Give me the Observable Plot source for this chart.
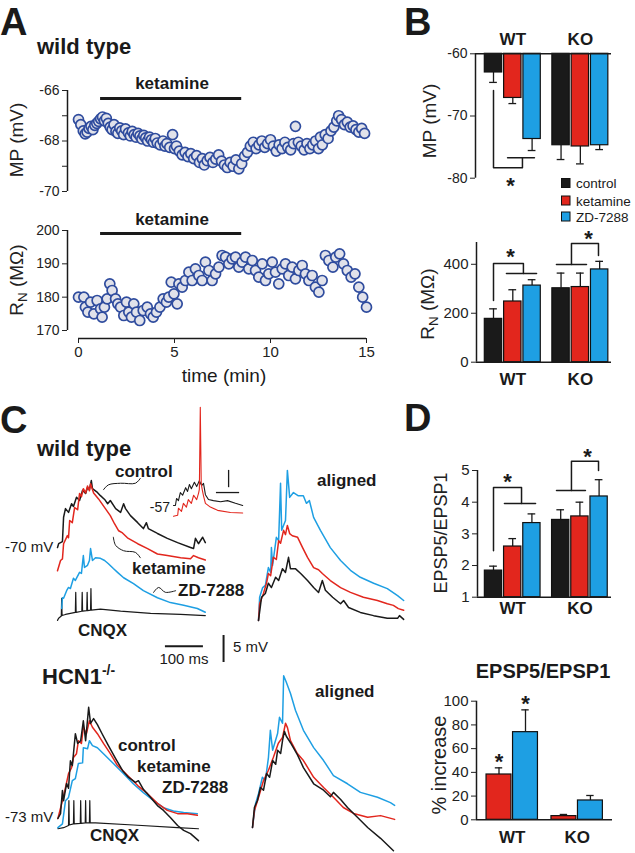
<!DOCTYPE html>
<html><head><meta charset="utf-8">
<script src="https://cdn.jsdelivr.net/npm/d3@7"></script>
<script src="https://cdn.jsdelivr.net/npm/@observablehq/plot@0.6"></script>
<style>
body{margin:0;background:#fff;}
#fig{position:relative;width:635px;height:853px;overflow:hidden;background:#fff;}
#fig svg{position:absolute;left:0;top:0;}
</style></head><body><div id="fig"></div>
<script>
// ================= DATA =================
// Panel A: membrane potential (mV) and input resistance (MOhm) vs time (min)
const mpData = [[0.00,-67.15],[0.12,-67.35],[0.25,-67.60],[0.35,-67.72],[0.45,-67.65],[0.55,-67.50],[0.65,-67.42],[0.75,-67.55],[0.85,-67.38],[0.95,-67.30],[1.05,-67.22],[1.15,-67.12],[1.25,-67.05],[1.35,-67.20],[1.45,-67.10],[1.55,-67.30],[1.65,-67.45],[1.75,-67.55],[1.85,-67.35],[1.95,-67.62],[2.05,-67.70],[2.15,-67.48],[2.25,-67.60],[2.35,-67.75],[2.45,-67.52],[2.60,-67.68],[2.70,-67.80],[2.80,-67.62],[2.90,-67.75],[3.00,-67.85],[3.10,-67.70],[3.20,-67.80],[3.30,-67.92],[3.40,-67.78],[3.50,-67.88],[3.60,-68.00],[3.70,-67.85],[3.80,-67.95],[3.90,-68.05],[4.00,-67.90],[4.10,-68.08],[4.25,-68.15],[4.40,-68.00],[4.50,-68.20],[4.60,-68.10],[4.75,-68.25],[4.90,-67.75],[5.00,-68.30],[5.10,-68.20],[5.25,-68.40],[5.40,-68.55],[5.55,-68.45],[5.70,-68.62],[5.85,-68.50],[6.00,-68.70],[6.15,-68.58],[6.30,-68.85],[6.45,-68.70],[6.55,-68.95],[6.70,-68.78],[6.85,-68.65],[7.00,-68.85],[7.15,-68.72],[7.30,-68.55],[7.45,-68.80],[7.60,-68.95],[7.75,-69.05],[7.90,-68.85],[8.05,-69.00],[8.20,-68.75],[8.35,-69.10],[8.50,-68.90],[8.65,-68.60],[8.80,-68.45],[8.95,-68.20],[9.10,-68.05],[9.25,-68.30],[9.40,-68.15],[9.55,-68.00],[9.70,-68.25],[9.85,-68.10],[10.00,-67.95],[10.15,-68.20],[10.30,-68.40],[10.45,-68.15],[10.60,-68.30],[10.75,-68.05],[10.90,-68.25],[11.05,-68.35],[11.20,-68.10],[11.30,-67.42],[11.45,-68.05],[11.60,-68.20],[11.75,-68.35],[11.90,-68.10],[12.05,-68.30],[12.20,-68.15],[12.35,-68.00],[12.50,-68.30],[12.60,-67.85],[12.70,-68.15],[12.85,-67.75],[13.00,-67.90],[13.15,-67.60],[13.30,-67.45],[13.45,-67.20],[13.55,-67.00],[13.70,-67.15],[13.85,-67.35],[14.00,-67.25],[14.15,-67.45],[14.30,-67.40],[14.45,-67.55],[14.60,-67.65],[14.75,-67.50],[14.90,-67.70]];
const rnData = [[0.00,180],[0.28,180],[0.36,177],[0.49,175.5],[0.63,178.5],[0.80,175],[0.97,179],[1.15,176.5],[1.23,174],[1.35,177],[1.49,179.5],[1.63,184],[1.75,182],[1.93,179.5],[2.05,178],[2.19,177],[2.36,174.5],[2.50,178.5],[2.62,175.5],[2.76,174],[2.88,178],[3.02,175.5],[3.19,173],[3.37,176],[3.58,177],[3.75,175],[3.89,174],[4.06,175.5],[4.24,177],[4.41,179.5],[4.58,178.5],[4.70,180],[4.83,184.5],[4.97,181],[5.14,178],[5.23,184],[5.40,183],[5.57,185],[5.75,187.5],[5.92,185],[6.09,188.5],[6.27,186.5],[6.44,185],[6.61,190.5],[6.79,188],[6.96,185],[7.14,187],[7.31,189],[7.48,192.5],[7.66,192],[7.83,190],[8.00,191.5],[8.18,192],[8.35,189],[8.52,190.5],[8.70,192],[8.87,188.5],[9.05,191],[9.22,188],[9.39,186],[9.57,190],[9.74,185],[9.91,187],[10.09,190.5],[10.26,187.5],[10.43,184],[10.61,188.5],[10.78,190],[10.95,186.5],[11.13,189],[11.30,185.5],[11.48,188],[11.65,189.5],[11.82,187],[12.00,185],[12.17,186.5],[12.34,183],[12.52,181.5],[12.69,185],[12.86,192.5],[13.04,191],[13.25,189],[13.40,192],[13.60,193],[13.80,190],[14.00,188],[14.20,186],[14.40,187],[14.60,183],[14.80,180],[15.00,177]];
const ketamineWindow = [1.15, 8.5]; // min

// Panels B and D: bar values (mean) and SEM
const conditions = ["control", "ketamine", "ZD-7288"];
const mpMeanWT = [-63.0, -67.1, -73.7], mpSemWT = [1.6, 0.9, 1.85];
const mpMeanKO = [-74.7, -74.9, -74.7], mpSemKO = [2.3, 2.8, 0.7];
const rnMeanWT = [177, 248, 313], rnSemWT = [41, 48, 24];
const rnMeanKO = [302, 307, 379], rnSemKO = [62, 57, 33];
const ratioMeanWT = [1.84, 2.60, 3.34], ratioSemWT = [0.14, 0.25, 0.29];
const ratioMeanKO = [3.44, 3.55, 4.18], ratioSemKO = [0.32, 0.45, 0.53];
const incConditions = ["ketamine", "ZD-7288"];
const incMeanWT = [38.2, 73.9], incSemWT = [5.6, 18.8];
const incMeanKO = [3.1, 16.3], incSemKO = [1.4, 4.2];

// Panel C: EPSP train traces, [time ms, depolarisation mV]
const wtControl = [[0,0],[3,0.7],[13,1.1],[16,5.6],[21,7.2],[29,6.5],[37,8.1],[42,7.6],[50,9.3],[58,8.7],[66,10.6],[74,10.0],[79,11.1],[84,10.7],[89,12.4],[92,10.9],[105,10.2],[113,9.6],[124,8.9],[132,8.1],[139,8.7],[153,7.2],[166,6.5],[174,8.1],[179,7.2],[192,5.9],[211,4.6],[226,3.5],[234,4.6],[239,3.5],[263,2.6],[289,1.7],[316,0.9],[350,0],[358,-0.2],[363,1.7],[371,0.7],[382,1.9],[389,0.9]];
const wtKetamine = [[0,0],[8,1.9],[13,2.2],[16,5.0],[26,6.5],[29,6.1],[32,9.3],[39,8.9],[45,11.7],[53,11.3],[58,14.3],[63,13.7],[68,15.2],[74,14.4],[79,15.7],[84,14.8],[87,16.1],[95,14.4],[108,13.3],[126,11.5],[139,10.2],[150,8.7],[161,7.4],[171,7.0],[184,6.1],[211,5.0],[237,4.1],[263,3.1],[289,2.8],[324,2.4],[350,2.2],[358,2.8],[371,2.4],[389,2.0]];
const wtZD = [[11,0],[13,2.0],[16,1.9],[24,3.3],[29,3.9],[34,3.7],[42,5.6],[47,5.2],[58,6.7],[63,6.5],[68,9.8],[71,7.6],[79,8.0],[84,8.9],[87,11.1],[92,8.9],[100,9.4],[113,9.3],[124,8.9],[134,8.3],[147,7.4],[158,6.7],[174,5.7],[200,4.6],[226,3.3],[263,2.0],[297,1.1],[332,0.6],[368,0],[389,-0.7]];
const wtCNQX = [[0,-0.2],[3,0.2],[10,0.6],[11,3.9],[12,0.7],[21,0.9],[34,1.1],[47,1.3],[48,5.0],[49,1.3],[64,1.5],[65,5.0],[66,1.5],[77,1.6],[78,5.0],[79,1.6],[87,1.7],[88,5.7],[89,1.7],[113,1.9],[166,1.5],[245,1.1],[324,0.9],[389,0.7]];
const insetControl = [[0,0],[5,0],[8,1.3],[13,0.9],[18,2.4],[24,1.9],[32,3.3],[37,2.6],[42,3.9],[47,3.1],[55,4.3],[61,3.5],[68,4.6],[74,3.7],[79,4.1],[84,2.0],[92,1.1],[105,0.9],[124,0.7],[142,0.9],[163,0.4],[182,0]];
const insetKetamine = [[0,0],[11,0.2],[13,1.5],[21,0.9],[26,2.4],[34,1.7],[39,3.1],[47,2.4],[53,3.9],[61,3.1],[66,4.3],[68,5.0],[70.5,20.2],[73,6.0],[76,4.8],[79,3.8],[84,2.4],[97,1.7],[116,1.1],[150,0.7],[182,0.6]];
const wtAlignedControl = [[0,0],[8,4.3],[18,5.0],[26,6.9],[34,6.1],[45,8.0],[53,7.4],[63,9.6],[71,8.9],[79,11.7],[84,9.6],[97,9.6],[111,8.7],[129,7.4],[145,6.1],[158,5.2],[168,7.4],[176,5.6],[195,4.3],[216,3.1],[224,3.7],[237,2.4],[268,1.5],[303,0.9],[339,0.4],[366,0.4],[371,0.9],[382,0.2]];
const wtAlignedKetamine = [[0,0],[3,3.1],[13,5.0],[21,6.9],[26,8.7],[32,8.3],[39,11.7],[47,11.3],[53,14.8],[58,14.3],[66,16.7],[71,15.9],[76,17.6],[82,16.1],[89,15.7],[103,15.4],[116,13.5],[129,11.7],[145,9.8],[158,9.4],[168,8.7],[189,7.4],[216,6.1],[242,5.2],[276,4.3],[313,3.7],[339,3.1],[355,2.8],[368,2.2],[382,1.9]];
const wtAlignedZD = [[0,0],[3,4.3],[11,6.1],[18,6.5],[26,9.8],[32,8.9],[34,13.5],[37,10.2],[47,15.4],[53,14.8],[58,25.4],[61,16.7],[71,18.5],[76,27.8],[82,22.8],[92,23.7],[105,23.1],[118,23.1],[126,21.7],[134,22.2],[145,19.1],[163,16.7],[189,13.5],[216,11.1],[242,9.3],[268,8.0],[303,6.9],[339,5.9],[366,4.6],[382,3.7]];
const koControl = [[1,0],[8,0.9],[13,5.2],[16,3.3],[24,6.5],[29,5.6],[34,10.7],[39,9.8],[47,15.7],[53,13.9],[61,14.4],[68,18.1],[74,14.4],[82,20.6],[87,17.6],[95,18.5],[105,17.4],[118,15.6],[134,13.5],[153,11.1],[171,8.9],[187,7.6],[205,6.7],[213,7.0],[226,5.4],[245,3.9],[263,2.4],[279,1.5],[297,0.2],[316,-1.3],[332,-2.2],[350,-2.8],[371,-4.1]];
const koKetamine = [[1,0],[13,3.3],[21,5.7],[29,8.3],[37,9.4],[42,11.3],[50,12.0],[55,14.4],[63,13.9],[68,16.9],[76,15.7],[84,18.1],[92,16.9],[105,15.7],[121,13.9],[139,12.0],[158,9.8],[184,8.0],[211,6.1],[237,4.6],[263,2.8],[289,1.5],[316,0.9],[342,0.9],[368,0.6]];
const koZD = [[1,0],[13,0.7],[21,5.0],[29,5.6],[39,8.7],[47,9.1],[55,11.9],[66,12.0],[68,14.8],[79,14.6],[84,16.1],[92,15.2],[105,14.8],[121,13.7],[147,11.9],[174,10.0],[200,8.1],[226,6.5],[253,5.0],[279,3.7],[305,3.1],[332,2.8],[368,2.6]];
const koCNQX = [[1,0],[16,0.2],[29,0.6],[30,5.2],[31,0.7],[42,0.9],[43,5.2],[44,0.9],[60,1.0],[61,5.2],[62,1.0],[73,1.1],[74,5.2],[75,1.1],[84,1.1],[85,5.2],[86,1.1],[100,1.1],[200,0.7],[316,0.2],[371,0]];
const koAlignedControl = [[0,0],[5,3.7],[13,5.0],[21,7.4],[29,6.9],[37,10.0],[45,9.3],[53,12.4],[61,11.7],[66,14.3],[74,13.7],[79,16.1],[84,17.8],[89,16.9],[100,15.7],[118,13.5],[134,11.1],[161,8.1],[187,6.9],[205,5.7],[213,6.5],[232,5.2],[250,3.7],[276,1.9],[303,0],[337,-2.0],[371,-4.3]];
const koAlignedKetamine = [[0,0],[5,3.1],[16,5.6],[29,8.7],[42,10.6],[55,13.0],[68,15.6],[79,16.7],[87,19.3],[92,18.5],[100,16.1],[118,13.7],[134,12.4],[161,9.3],[187,7.4],[213,5.6],[239,3.7],[266,2.6],[303,1.9],[337,2.2],[374,1.5]];
const koAlignedZD = [[0,0],[8,4.4],[16,6.3],[26,9.3],[34,8.7],[42,13.0],[47,18.0],[53,14.3],[66,17.4],[71,20.4],[79,19.3],[82,28.1],[89,26.9],[100,24.8],[113,21.7],[134,18.0],[161,14.8],[187,12.4],[213,9.6],[250,8.1],[284,6.5],[329,5.6],[363,4.6],[374,4.1]];
const scaleBar = {ms: 100, mV: 5};

// ================= STYLE / LAYOUT =================
const FONT = '"Liberation Sans", Arial, Helvetica, sans-serif';
const W = 635, H = 853;
const colors = {"control": "#1a1a1a", "ketamine": "#e2261d", "ZD-7288": "#1e9fe3"};
const INK = "#1a1a1a";
const fig = document.getElementById("fig");
const add = (el) => fig.appendChild(el);
const baseStyle = {background: "none", fontFamily: FONT, fontSize: "14px", color: "#222", overflow: "visible"};

// ---------- Panel A ----------
const aL = 67, aR = 366, aZero = 78, aKx = (aR - aZero) / 15;
const aXdom = [(aL - aZero) / aKx, 15];
const dotStyle = {r: 5, fill: "#e1e2ea", stroke: "#2f4c9e", strokeWidth: 1.7};

add(Plot.plot({
  width: W, height: H, marginLeft: aL, marginRight: W - aR, marginTop: 90, marginBottom: H - 191,
  x: {domain: aXdom, axis: null, label: null}, y: {domain: [-70, -66], label: null},
  style: baseStyle,
  marks: [
    Plot.ruleX([aXdom[0]], {y1: -70, y2: -66, stroke: INK, strokeWidth: 1.5}),
    Plot.axisY({ticks: [-66, -67, -68, -69, -70], tickFormat: d => d % 2 === 0 ? String(d) : "", tickSize: 5, tickPadding: 3, fontSize: 14, label: null}),
    Plot.ruleY([-66.32], {x1: ketamineWindow[0], x2: ketamineWindow[1], stroke: INK, strokeWidth: 3}),
    Plot.dot(mpData, {x: d => d[0], y: d => d[1], ...dotStyle})
  ]
}));

add(Plot.plot({
  width: W, height: H, marginLeft: aL, marginRight: W - aR, marginTop: 230, marginBottom: H - 338,
  x: {domain: aXdom, label: null}, y: {domain: [167.6, 200], label: null},
  style: baseStyle,
  marks: [
    Plot.ruleX([aXdom[0]], {y1: 170, y2: 200, stroke: INK, strokeWidth: 1.5}),
    Plot.ruleY([167.6], {x1: 0, x2: 15, stroke: INK, strokeWidth: 1.5}),
    Plot.axisY({ticks: [170, 180, 190, 200], tickFormat: d => String(d), tickSize: 5, tickPadding: 3, fontSize: 14, label: null}),
    Plot.axisX({ticks: [0, 5, 10, 15], tickFormat: d => String(d), tickSize: 5, tickPadding: 3, fontSize: 15, label: null}),
    Plot.ruleY([199.1], {x1: ketamineWindow[0], x2: ketamineWindow[1], stroke: INK, strokeWidth: 3}),
    Plot.dot(rnData, {x: d => d[0], y: d => d[1], ...dotStyle})
  ]
}));

// ---------- Bar panels (B, D) ----------
function rows(conds, mWT, sWT, mKO, sKO, dir) {
  const out = [];
  conds.forEach((c, i) => out.push({g: "WT", c, v: mWT[i], e: mWT[i] + dir * sWT[i]}));
  conds.forEach((c, i) => out.push({g: "KO", c, v: mKO[i], e: mKO[i] + dir * sKO[i]}));
  return out;
}
function barPanel(cfg) {
  const {xpx: [L, R], ypx: [T, B], ydom, c0, slot, offs, conds, data, base, axisAt, ticks, fontSize,
         hw = 0.45, cap = 0.2, brackets = [], stars = [], labels = []} = cfg;
  const xdom = [(L - c0) / slot, (R - c0) / slot];
  const pos = d => offs[d.g] + conds.indexOf(d.c);
  const bpts = brackets.flatMap((b, k) => b.map(p => ({k, x: p[0], y: p[1]})));
  return Plot.plot({
    width: W, height: H, marginLeft: L, marginRight: W - R, marginTop: T, marginBottom: H - B,
    x: {domain: xdom, axis: null, label: null}, y: {domain: ydom, label: null},
    style: {...baseStyle, fontSize: fontSize + "px"},
    marks: [
      Plot.ruleX(data, {x: pos, y1: "v", y2: "e", stroke: INK, strokeWidth: 1.3}),
      Plot.ruleY(data, {y: "e", x1: d => pos(d) - cap, x2: d => pos(d) + cap, stroke: INK, strokeWidth: 1.3}),
      Plot.rectY(data, {x1: d => pos(d) - hw, x2: d => pos(d) + hw, y1: base, y2: "v", fill: d => colors[d.c], stroke: "#111", strokeWidth: 1.2}),
      Plot.ruleX([xdom[0]], {y1: ydom[0], y2: ydom[1], stroke: INK, strokeWidth: 1.5}),
      Plot.ruleY([axisAt], {stroke: INK, strokeWidth: 1.5}),
      Plot.axisY({ticks, tickFormat: d => String(d), tickSize: 5, tickPadding: 3, fontSize, label: null}),
      Plot.line(bpts, {x: "x", y: "y", z: "k", stroke: INK, strokeWidth: 1.5}),
      Plot.text(stars, {x: d => d[0], y: d => d[1], text: () => "*", fontSize: 22, fontWeight: "bold", fill: INK, dy: 6}),
      Plot.text(labels, {x: d => d[1], y: d => d[2], text: d => d[0], fontSize: 17, fontWeight: "bold", fill: INK})
    ]
  });
}

add(barPanel({
  xpx: [475, 611], ypx: [53.3, 177.7], ydom: [-80, -60], c0: 493, slot: 19.3, offs: {WT: 0, KO: 3.5},
  conds: conditions, data: rows(conditions, mpMeanWT, mpSemWT, mpMeanKO, mpSemKO, -1),
  base: -60, axisAt: -60, ticks: [-60, -70, -80], fontSize: 14,
  brackets: [[[0, -65.9], [0, -78.3], [1.5, -78.3], [1.5, -76.7]], [[0.73, -76.7], [2.12, -76.7]]],
  stars: [[0.88, -80.3]],
  labels: [["WT", 1, -57.7], ["KO", 4.5, -57.7]]
}));
add(barPanel({
  xpx: [476, 611], ypx: [242, 361.7], ydom: [0, 489], c0: 493, slot: 19.3, offs: {WT: 0, KO: 3.5},
  conds: conditions, data: rows(conditions, rnMeanWT, rnSemWT, rnMeanKO, rnSemKO, 1),
  base: 0, axisAt: 0, ticks: [0, 200, 400], fontSize: 15,
  brackets: [[[0, 252], [0, 403], [1.55, 403], [1.55, 362]], [[0.67, 362], [2.23, 362]],
             [[3.26, 399], [4.82, 399]], [[4.04, 399], [4.04, 485], [5.44, 485], [5.44, 436]]],
  stars: [[0.88, 456], [4.92, 526]],
  labels: [["WT", 1, -72.7], ["KO", 4.5, -72.7]]
}));
add(barPanel({
  xpx: [477, 611], ypx: [470, 596.7], ydom: [1, 5], c0: 493, slot: 19.2, offs: {WT: 0, KO: 3.5},
  conds: conditions, data: rows(conditions, ratioMeanWT, ratioSemWT, ratioMeanKO, ratioSemKO, 1),
  base: 1, axisAt: 1, ticks: [1, 2, 3, 4, 5], fontSize: 15,
  brackets: [[[0, 2.47], [0, 4.46], [1.46, 4.46], [1.46, 3.96]], [[0.57, 3.96], [2.19, 3.96]],
             [[3.28, 4.37], [4.79, 4.37]], [[4.06, 4.37], [4.06, 5.29], [5.47, 5.29], [5.47, 5.0]]],
  stars: [[0.73, 4.84], [4.9, 5.63]],
  labels: [["WT", 1, 0.63], ["KO", 4.5, 0.63]]
}));
add(barPanel({
  xpx: [476, 612], ypx: [700.7, 819.3], ydom: [0, 100], c0: 498.5, slot: 26.5, offs: {WT: 0, KO: 2.45},
  conds: incConditions, data: rows(incConditions, incMeanWT, incSemWT, incMeanKO, incSemKO, 1),
  base: 0, axisAt: 0, ticks: [0, 20, 40, 60, 80, 100], fontSize: 15, hw: 0.47, cap: 0.14,
  stars: [[0, 54.2], [1, 103]],
  labels: [["WT", 0.5, -14.7], ["KO", 2.95, -14.7]]
}));

// ---------- Panel C traces ----------
const KX = 0.38, KY = 5.4; // px per ms, px per mV
function tracePlot(x0, ref, marks) {
  return Plot.plot({
    width: W, height: H, margin: 0,
    x: {domain: [-x0 / KX, (W - x0) / KX], axis: null}, y: {domain: [(ref - H) / KY, ref / KY], axis: null},
    style: baseStyle, marks
  });
}
const tr = (data, cond, off = 0, sw = 1.5) =>
  Plot.line(data, {x: d => d[0], y: d => d[1] + off, stroke: colors[cond], strokeWidth: sw, strokeLinejoin: "round"});
const leader = (pts) => Plot.line(pts, {x: d => d[0], y: d => d[1], stroke: INK, strokeWidth: 1, curve: "catmull-rom"});

// wild type, raw
add(tracePlot(57, 547, [
  tr(wtCNQX, "control", -13.3, 1.2),
  tr(wtZD, "ZD-7288", -11.3),
  tr(wtControl, "control", 0),
  tr(wtKetamine, "ketamine", -4.3),
  leader([[121, 10.7], [134, 11.6], [166, 11.9], [205, 11.9], [218, 12.8]]),
  leader([[147, 1.9], [153, 0.4], [174, -0.6], [205, -0.9], [218, -1.9]]),
  leader([[253, -8.3], [266, -7.4], [284, -8.3], [311, -8.0]]),
  Plot.ruleY([-18.3], {x1: 284, x2: 284 + scaleBar.ms, stroke: INK, strokeWidth: 2}),
  Plot.ruleX([437], {y1: -21.3, y2: -21.3 + scaleBar.mV, stroke: INK, strokeWidth: 2})
]));
// inset at -57 mV
add(tracePlot(173, 505, [
  tr(insetControl, "control", 0, 1.1),
  tr(insetKetamine, "ketamine", -2.0, 1.1),
  Plot.ruleY([2.4], {x1: 113, x2: 174, stroke: INK, strokeWidth: 1.3}),
  Plot.ruleX([145], {y1: 3.3, y2: 6.5, stroke: INK, strokeWidth: 1.3})
]));
// wild type aligned
add(tracePlot(258, 620, [
  tr(wtAlignedZD, "ZD-7288"),
  tr(wtAlignedKetamine, "ketamine"),
  tr(wtAlignedControl, "control")
]));
// HCN1-/- raw
add(tracePlot(57, 818, [
  tr(koCNQX, "control", -1.9, 1.2),
  tr(koZD, "ZD-7288", -1.7),
  tr(koKetamine, "ketamine", 0),
  tr(koControl, "control", 0)
]));
// HCN1-/- aligned
add(tracePlot(252, 827, [
  tr(koAlignedZD, "ZD-7288"),
  tr(koAlignedKetamine, "ketamine"),
  tr(koAlignedControl, "control")
]));

// ---------- Text overlay ----------
const ov = d3.select(fig).append("svg").attr("width", W).attr("height", H).style("font-family", FONT);
function T(s, x, y, size, weight = "normal", anchor = "start") {
  return ov.append("text").attr("x", x).attr("y", y).attr("font-size", size).attr("font-weight", weight)
    .attr("text-anchor", anchor).attr("fill", INK).text(s);
}
function TR(s, x, y, size) {
  return ov.append("text").attr("transform", `translate(${x},${y}) rotate(-90)`).attr("font-size", size)
    .attr("text-anchor", "middle").attr("fill", "#222").text(s);
}
function RN(x, y, size) {
  const t = ov.append("text").attr("transform", `translate(${x},${y}) rotate(-90)`).attr("font-size", size)
    .attr("text-anchor", "middle").attr("fill", "#222");
  t.append("tspan").text("R");
  t.append("tspan").attr("font-size", size * 0.7).attr("dy", 4).text("N");
  t.append("tspan").attr("dy", -4).text(" (MΩ)");
}
// panel letters
T("A", 0, 35, 38, "bold"); T("B", 404, 35, 38, "bold"); T("C", 0, 433, 38, "bold"); T("D", 404, 431, 38, "bold");
// A
T("wild type", 37, 54, 22, "bold");
TR("MP (mV)", 23, 140, 19);
RN(23, 280, 19);
T("ketamine", 172, 89, 17, "bold", "middle");
T("ketamine", 172, 225, 17, "bold", "middle");
T("time (min)", 224, 382, 19, "normal", "middle");
// B
TR("MP (mV)", 436, 121, 19);
RN(434, 304, 19);
const legendRows = [["control", 183], ["ketamine", 200.5], ["ZD-7288", 216.5]];
legendRows.forEach(([c, y]) => {
  ov.append("rect").attr("x", 561.5).attr("y", y - 4.5).attr("width", 8.5).attr("height", 9)
    .attr("fill", colors[c]).attr("stroke", "#111").attr("stroke-width", 1);
  T(c, 576, y + 5, 13.5);
});
// C
T("wild type", 37, 456, 22, "bold");
T("control", 115, 477, 17, "bold");
T("ketamine", 132, 574, 17, "bold");
T("ZD-7288", 178, 596, 17, "bold");
T("CNQX", 78, 636, 17, "bold");
T("-70 mV", 5, 552, 15);
T("-57", 170, 512, 14, "normal", "end");
T("aligned", 317, 486, 17, "bold");
T("100 ms", 184, 664, 15, "normal", "middle");
T("5 mV", 233, 652, 15);
const hcn = T("HCN1", 42, 684, 22, "bold");
hcn.append("tspan").attr("font-size", 14).attr("dy", -9).text("-/-");
T("control", 118, 751, 17, "bold");
T("ketamine", 137, 772, 17, "bold");
T("ZD-7288", 162, 793, 17, "bold");
T("-73 mV", 5, 822, 15);
T("CNQX", 90, 841, 17, "bold");
T("aligned", 315, 697, 17, "bold");
// D
TR("EPSP5/EPSP1", 447, 533, 18);
TR("% increase", 446, 765, 20);
T("EPSP5/EPSP1", 543, 678, 20, "bold", "middle");
</script></body></html>
